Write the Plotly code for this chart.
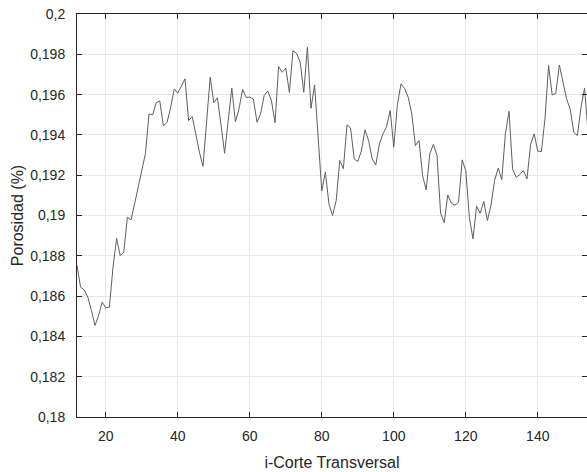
import plotly.graph_objects as go

corte = list(range(12, 155))
porosidad = [
    0.18752, 0.18644, 0.18631, 0.18595, 0.18529, 0.18454, 0.18504, 0.18570, 0.18542, 0.18545,
    0.18743, 0.18887, 0.18801, 0.18818, 0.18991, 0.18978, 0.19058, 0.19140, 0.19223, 0.19306,
    0.19504, 0.19499, 0.19560, 0.19568, 0.19445, 0.19462, 0.19535, 0.19628, 0.19607, 0.19645,
    0.19678, 0.19471, 0.19491, 0.19405, 0.19314, 0.19244, 0.19467, 0.19686, 0.19560, 0.19584,
    0.19450, 0.19309, 0.19470, 0.19632, 0.19465, 0.19529, 0.19626, 0.19586, 0.19588, 0.19578,
    0.19463, 0.19504, 0.19596, 0.19618, 0.19571, 0.19460, 0.19739, 0.19711, 0.19731, 0.19611,
    0.19818, 0.19805, 0.19760, 0.19611, 0.19835, 0.19532, 0.19648, 0.19388, 0.19122, 0.19215,
    0.19056, 0.19000, 0.19074, 0.19273, 0.19232, 0.19450, 0.19434, 0.19281, 0.19268, 0.19320,
    0.19425, 0.19372, 0.19281, 0.19251, 0.19355, 0.19405, 0.19441, 0.19521, 0.19339, 0.19550,
    0.19653, 0.19630, 0.19587, 0.19504, 0.19347, 0.19372, 0.19198, 0.19127, 0.19306, 0.19353,
    0.19298, 0.19013, 0.18964, 0.19102, 0.19061, 0.19051, 0.19066, 0.19276, 0.19222, 0.18990,
    0.18884, 0.19046, 0.19011, 0.19070, 0.18975, 0.19051, 0.19173, 0.19235, 0.19178, 0.19405,
    0.19517, 0.19231, 0.19190, 0.19203, 0.19223, 0.19182, 0.19352, 0.19405, 0.19319, 0.19317,
    0.19480, 0.19744, 0.19598, 0.19606, 0.19747, 0.19661, 0.19579, 0.19527, 0.19413, 0.19397,
    0.19537, 0.19633, 0.19400,
]

x_ticks = [20, 40, 60, 80, 100, 120, 140]
y_ticks = [0.18, 0.182, 0.184, 0.186, 0.188, 0.19, 0.192, 0.194, 0.196, 0.198, 0.2]
y_tick_labels = ["0,18", "0,182", "0,184", "0,186", "0,188", "0,19",
                 "0,192", "0,194", "0,196", "0,198", "0,2"]

FONT = "Liberation Sans, Arial, sans-serif"

fig = go.Figure()
fig.add_trace(go.Scatter(
    x=corte, y=porosidad, mode="lines",
    line=dict(color="#5f5f5f", width=1),
    showlegend=False,
))

axis_common = dict(
    showline=True, linecolor="#262626", linewidth=1, mirror="ticks",
    ticks="inside", ticklen=5, tickcolor="#262626",
    showgrid=True, gridcolor="#e6e6e6", gridwidth=1,
    zeroline=False,
    ticklabeloverflow="allow",
    tickfont=dict(family=FONT, size=14, color="#262626"),
)

fig.update_xaxes(
    range=[12, 153.67],
    tickvals=x_ticks,
    title=dict(text="i-Corte Transversal",
               font=dict(family=FONT, size=16, color="#262626"),
               standoff=14),
    ticklabelstandoff=6,
    **axis_common,
)
fig.update_yaxes(
    range=[0.18, 0.2],
    tickvals=y_ticks, ticktext=y_tick_labels,
    title=dict(text="Porosidad (%)",
               font=dict(family=FONT, size=16, color="#262626"),
               standoff=2),
    ticklabelstandoff=8,
    **axis_common,
)

fig.update_layout(
    width=587, height=472,
    margin=dict(l=77, r=0, t=14, b=55),
    plot_bgcolor="white", paper_bgcolor="white",
)

fig.write_html(
    "out.html",
    config={"displayModeBar": False},
    post_script="document.body.style.margin='0';document.body.style.overflow='hidden';",
)
